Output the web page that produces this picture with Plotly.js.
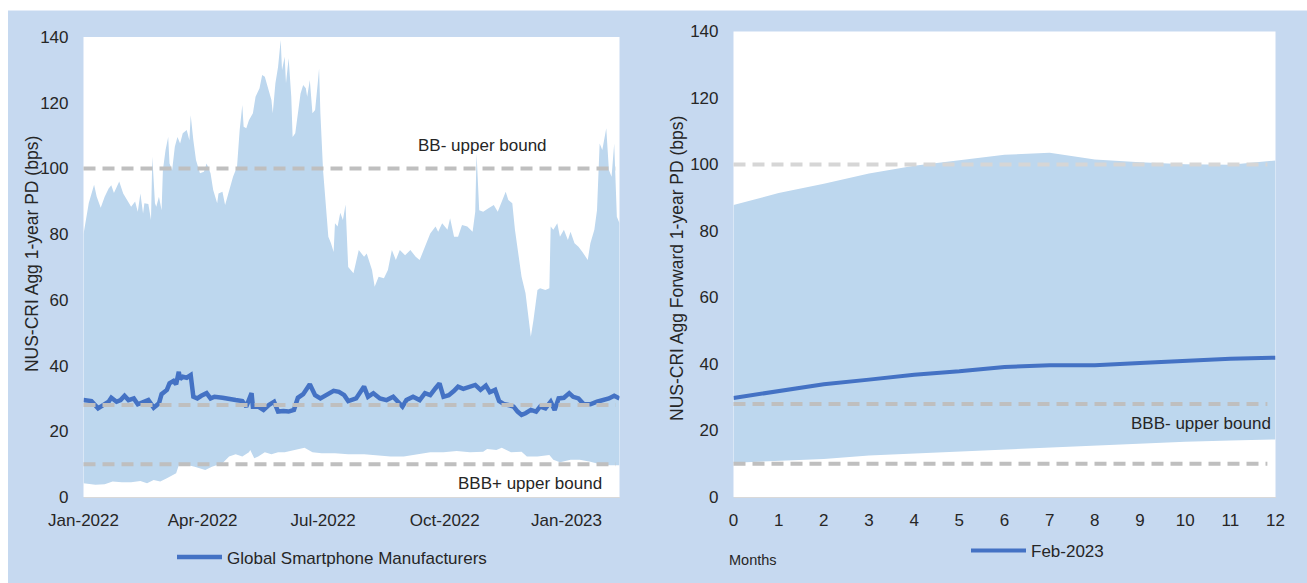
<!DOCTYPE html>
<html>
<head>
<meta charset="utf-8">
<script src="https://cdn.plot.ly/plotly-3.0.1.min.js"></script>
<style>
  html, body { margin: 0; padding: 0; background: #ffffff; }
  #chart { width: 1307px; height: 583px; }
</style>
</head>
<body>
<div id="chart"></div>
<script>
// ---------------- Left panel data: NUS-CRI Agg 1-year PD (bps) ----------------
const upperDates = ['2022-01-01','2022-01-03','2022-01-05','2022-01-09','2022-01-11','2022-01-14','2022-01-17','2022-01-20','2022-01-22','2022-01-24','2022-01-26','2022-01-28','2022-01-31',
  '2022-02-04','2022-02-06','2022-02-09','2022-02-11','2022-02-13','2022-02-15','2022-02-16','2022-02-19','2022-02-21','2022-02-22','2022-02-24','2022-02-25','2022-02-27',
  '2022-03-01','2022-03-02','2022-03-04','2022-03-06','2022-03-07','2022-03-09','2022-03-11','2022-03-13','2022-03-15','2022-03-17','2022-03-20','2022-03-22','2022-03-23','2022-03-25','2022-03-27','2022-03-30',
  '2022-04-02','2022-04-04','2022-04-07','2022-04-09','2022-04-12','2022-04-13','2022-04-16','2022-04-18','2022-04-21','2022-04-24','2022-04-27','2022-04-29',
  '2022-05-01','2022-05-02','2022-05-04','2022-05-06','2022-05-09','2022-05-11','2022-05-14','2022-05-16','2022-05-18','2022-05-21','2022-05-23','2022-05-24','2022-05-26','2022-05-28','2022-05-30','2022-05-31',
  '2022-06-02','2022-06-03','2022-06-05','2022-06-07','2022-06-08','2022-06-10','2022-06-12','2022-06-14','2022-06-16','2022-06-18','2022-06-19','2022-06-21','2022-06-23','2022-06-25','2022-06-27','2022-06-28','2022-06-29',
  '2022-07-01','2022-07-03','2022-07-05','2022-07-07','2022-07-09','2022-07-10','2022-07-12','2022-07-14','2022-07-16','2022-07-18','2022-07-20','2022-07-24','2022-07-28',
  '2022-08-01','2022-08-03','2022-08-07','2022-08-09','2022-08-12','2022-08-16','2022-08-19','2022-08-22','2022-08-25','2022-08-28',
  '2022-09-01','2022-09-05','2022-09-09','2022-09-12','2022-09-16','2022-09-20','2022-09-24','2022-09-26','2022-09-29',
  '2022-10-03','2022-10-05','2022-10-08','2022-10-11','2022-10-14','2022-10-18','2022-10-22','2022-10-24','2022-10-25','2022-10-27','2022-10-30',
  '2022-11-03','2022-11-07','2022-11-10','2022-11-12','2022-11-16','2022-11-18','2022-11-21','2022-11-23','2022-11-26','2022-11-28',
  '2022-12-01','2022-12-03','2022-12-05','2022-12-07','2022-12-10','2022-12-12','2022-12-16','2022-12-19','2022-12-20','2022-12-22','2022-12-25','2022-12-27','2022-12-30',
  '2023-01-02','2023-01-04','2023-01-07','2023-01-10','2023-01-13','2023-01-17','2023-01-19','2023-01-22','2023-01-24','2023-01-26','2023-01-28','2023-01-31',
  '2023-02-02','2023-02-04','2023-02-06','2023-02-08','2023-02-10'];
const upperValues = [80,85,89.5,95,91.4,88,91.4,93.9,94.9,92.5,94.4,96,92.4,
  89.4,88.3,89.9,86.8,92.4,86.3,89.4,89.2,84.3,103.6,89.4,88.3,91.4,
  87.3,99.5,105.6,109.6,101.5,99.5,106.6,109.6,107.6,110.7,111.7,108.6,116.2,108.6,102.6,98.5,
  99,101.5,98.5,93.4,89.4,92.4,92.9,88.9,93.4,97.5,100.5,111.7,
  119.3,112.7,112.2,114.7,116.8,121.8,124.4,128.4,127.9,123.3,120.8,116.8,125.9,130.9,139.1,129.9,
  134,125.9,133.5,121.8,109.6,110.7,116.8,122.8,125.4,124.4,121.8,126.9,116.8,117.8,125.9,130.4,116.8,
  99.5,89.4,79.2,77.2,74.6,83.3,82.3,86.5,84.3,89,70,68.1,75.2,
  73.1,74.1,69.1,64,67,66.6,69.1,75.2,72.1,75.2,
  73.6,75.2,73.1,72.1,76.2,80.2,82.3,80.7,83.3,
  81.3,84.8,79.2,79.2,82.8,82.3,80.7,86.8,104.6,87.3,86.8,
  87.9,88.9,86.8,88.9,92.9,90.4,89.4,81.3,73.1,67,
  62,54.9,48.8,53.9,63,63.5,63,63.5,82.3,81.3,83.3,79.2,81.3,
  78.2,80.7,77.2,76.2,74.6,72.1,77.2,81.3,87.3,107.6,105.6,112.2,
  99.5,97.5,107.6,85.3,83.3];

const lowerDates = ['2022-01-01','2022-01-10','2022-01-17','2022-01-23','2022-01-30',
  '2022-02-06','2022-02-13','2022-02-18','2022-02-23','2022-02-28',
  '2022-03-05','2022-03-10','2022-03-12','2022-03-14','2022-03-19','2022-03-26',
  '2022-04-03','2022-04-08','2022-04-16','2022-04-21','2022-04-26',
  '2022-05-01','2022-05-06','2022-05-07','2022-05-10','2022-05-13','2022-05-18','2022-05-23','2022-05-28',
  '2022-06-02','2022-06-10','2022-06-17','2022-06-23','2022-06-30',
  '2022-07-10','2022-07-20','2022-08-01','2022-08-11','2022-08-21','2022-08-31',
  '2022-09-10','2022-09-20','2022-09-30','2022-10-10','2022-10-20','2022-10-30',
  '2022-11-02','2022-11-09','2022-11-13','2022-11-20','2022-11-28',
  '2022-12-02','2022-12-10','2022-12-19','2022-12-22','2022-12-27',
  '2023-01-04','2023-01-11','2023-01-19','2023-01-27','2023-02-03','2023-02-10'];
const lowerValues = [4.2,3.7,3.9,4.7,4.5,
  4.5,4.9,4.2,5.2,4.7,
  5.7,6.7,7.2,9.7,9.9,9.2,
  8.2,9.2,10.3,12.3,13,
  12.3,13.6,14.3,11.8,12.3,13.6,13,13.6,
  13.6,14.3,15,13.6,13.3,
  13.3,13,13,12.6,12.3,12.3,
  13,13.6,13.6,14,13.6,13.8,
  14.6,14.3,15,13.6,13.8,
  12.3,12.3,12.8,11.3,10.6,
  11.3,11.3,10.7,9.9,9.7,9.7];

const medianDates = ['2022-01-01','2022-01-07','2022-01-12','2022-01-16','2022-01-20','2022-01-22','2022-01-26','2022-01-29',
  '2022-02-01','2022-02-04','2022-02-08','2022-02-11','2022-02-15','2022-02-19','2022-02-23','2022-02-27',
  '2022-03-01','2022-03-05','2022-03-07','2022-03-10','2022-03-12','2022-03-14','2022-03-15','2022-03-17','2022-03-20','2022-03-23','2022-03-25','2022-03-28','2022-03-31',
  '2022-04-04','2022-04-07','2022-04-10','2022-04-16','2022-04-21','2022-04-26',
  '2022-05-01','2022-05-04','2022-05-08','2022-05-09','2022-05-13','2022-05-17','2022-05-21','2022-05-25','2022-05-28',
  '2022-06-01','2022-06-05','2022-06-09','2022-06-12','2022-06-16','2022-06-21','2022-06-25','2022-06-29',
  '2022-07-04','2022-07-09','2022-07-13','2022-07-17','2022-07-20','2022-07-26',
  '2022-08-01','2022-08-04','2022-08-08','2022-08-13','2022-08-18','2022-08-23','2022-08-30',
  '2022-09-02','2022-09-07','2022-09-12','2022-09-16','2022-09-20','2022-09-24','2022-09-27','2022-09-30',
  '2022-10-04','2022-10-08','2022-10-11','2022-10-15','2022-10-19','2022-10-24','2022-10-28',
  '2022-11-01','2022-11-04','2022-11-08','2022-11-11','2022-11-15','2022-11-18','2022-11-22','2022-11-25','2022-11-28',
  '2022-12-01','2022-12-05','2022-12-09','2022-12-12','2022-12-16','2022-12-20','2022-12-23','2022-12-26','2022-12-30',
  '2023-01-03','2023-01-06','2023-01-10','2023-01-14','2023-01-19','2023-01-24','2023-01-29',
  '2023-02-02','2023-02-06','2023-02-10'];
const medianValues = [29.5,29.2,27,28,29,30.2,29,29.5,
  30.8,29.5,30,28.2,29,29.5,27.2,28.5,
  31.3,32.6,34.6,35.3,34.3,38.1,35.9,36.6,36.3,37.1,30.5,30,30.8,
  31.6,30,30.5,30.2,30,29.5,
  29.2,27.5,31.6,27.5,27.5,26.5,28,29,26,
  26.2,26,26.5,30.2,31.3,34.3,31,30,
  31,32.3,32,31,29.2,30,
  33.6,30.5,31.6,30,29.5,30.5,27.5,
  29.5,30.5,29.5,31.6,31,33.1,34.6,30.5,
  31,32.3,33.6,32.9,33.3,34.1,32.6,
  33.9,31.9,32.6,29.2,28.2,28,27.5,26,25,
  25.5,26.5,26,27.5,27,29,26.5,30,30.2,
  31.6,30.5,30,28.2,28.2,29,29.5,
  30,30.8,30];

const leftTickDates = ['2022-01-01','2022-04-01','2022-07-01','2022-10-01','2023-01-01'];

// ---------------- Right panel data: Forward 1-year PD (bps) ----------------
const months = [0,1,2,3,4,5,6,7,8,9,10,11,12];
const fwdUpper = [87.8,91.4,94.2,97.3,99.6,101.2,102.9,103.5,101.5,100.7,100.1,99.9,101.2];
const fwdLower = [10.3,10.8,11.4,12.5,13.1,13.6,14.2,15,15.6,16.1,16.6,17,17.3];
const fwdMedian = [29.8,31.8,33.9,35.3,36.8,37.8,39.1,39.6,39.6,40.3,41,41.6,41.9];

// Rating-bound reference levels (bps)
const boundLevels = [100, 28, 10];

// ---------------- Layout helpers ----------------
const W = 1307, H = 583;
const px = x => x / W;
const py = y => 1 - y / H;

const BAND = '#bdd7ee';
const LINE = '#4472c4';
const TXT = '#262626';
const FONT = 'Liberation Sans, Arial, sans-serif';

const traces = [
  { x: lowerDates, y: lowerValues, xaxis: 'x', yaxis: 'y', mode: 'lines', line: { width: 0, color: BAND }, showlegend: false, hoverinfo: 'skip' },
  { x: upperDates, y: upperValues, xaxis: 'x', yaxis: 'y', mode: 'lines', line: { width: 0, color: BAND }, fill: 'tonexty', fillcolor: BAND, showlegend: false, hoverinfo: 'skip' },
  { x: medianDates, y: medianValues, xaxis: 'x', yaxis: 'y', mode: 'lines', name: 'Global Smartphone Manufacturers', line: { width: 4.5, color: LINE }, legend: 'legend' },
  { x: months, y: fwdLower, xaxis: 'x2', yaxis: 'y2', mode: 'lines', line: { width: 0, color: BAND }, showlegend: false, hoverinfo: 'skip' },
  { x: months, y: fwdUpper, xaxis: 'x2', yaxis: 'y2', mode: 'lines', line: { width: 0, color: BAND }, fill: 'tonexty', fillcolor: BAND, showlegend: false, hoverinfo: 'skip' },
  { x: months, y: fwdMedian, xaxis: 'x2', yaxis: 'y2', mode: 'lines', name: 'Feb-2023', line: { width: 4, color: LINE }, legend: 'legend2' }
];

const shapes = [
  // white outer margins (left strip, top strip)
  { type: 'rect', xref: 'paper', yref: 'paper', x0: 0, x1: px(8), y0: 0, y1: 1, fillcolor: '#ffffff', line: { width: 0 }, layer: 'above' },
  { type: 'rect', xref: 'paper', yref: 'paper', x0: 0, x1: 1, y0: py(10.5), y1: 1, fillcolor: '#ffffff', line: { width: 0 }, layer: 'above' }
];
boundLevels.forEach(v => {
  shapes.push({ type: 'line', xref: 'x domain', yref: 'y', x0: 0, x1: 0.993, y0: v, y1: v,
    line: { color: '#bfbfbf', width: 4, dash: '12px,7px' }, layer: 'above' });
  shapes.push({ type: 'line', xref: 'x2 domain', yref: 'y2', x0: 0, x1: 0.985, y0: v, y1: v,
    line: { color: v === 100 ? '#d6d6d6' : '#bfbfbf', width: 4, dash: '12px,7px' }, layer: 'above' });
});

const axisCommon = {
  showgrid: false, zeroline: false, ticks: '',
  tickfont: { family: FONT, size: 17, color: TXT }
};

const layout = {
  width: W, height: H,
  margin: { l: 0, r: 0, t: 0, b: 0 },
  paper_bgcolor: '#c6d9f0',
  plot_bgcolor: '#ffffff',
  font: { family: FONT, color: TXT },
  showlegend: true,
  xaxis: Object.assign({}, axisCommon, {
    domain: [px(83.5), px(619.5)], anchor: 'y', type: 'date',
    range: ['2022-01-01', '2023-02-10'],
    tickvals: leftTickDates, tickformat: '%b-%Y',
    showline: true, linecolor: '#d9d9d9', linewidth: 1,
    ticklabelstandoff: 8
  }),
  yaxis: Object.assign({}, axisCommon, {
    domain: [py(497), py(37)], anchor: 'x', range: [0, 140], dtick: 20,
    showline: false, ticklabelstandoff: 14
  }),
  xaxis2: Object.assign({}, axisCommon, {
    domain: [px(733.5), px(1275.5)], anchor: 'y2', range: [0, 12], dtick: 1,
    showline: true, linecolor: '#d9d9d9', linewidth: 1,
    ticklabelstandoff: 8
  }),
  yaxis2: Object.assign({}, axisCommon, {
    domain: [py(497), py(31.5)], anchor: 'x2', range: [0, 140], dtick: 20,
    showline: false, ticklabelstandoff: 14
  }),
  legend: {
    x: px(172), y: py(557.5), xanchor: 'left', yanchor: 'middle', orientation: 'h',
    bgcolor: 'rgba(0,0,0,0)', borderwidth: 0, itemwidth: 45,
    font: { family: FONT, size: 17, color: TXT }
  },
  legend2: {
    x: px(966), y: py(551), xanchor: 'left', yanchor: 'middle', orientation: 'h',
    bgcolor: 'rgba(0,0,0,0)', borderwidth: 0, itemwidth: 55,
    font: { family: FONT, size: 17, color: TXT }
  },
  shapes: shapes,
  annotations: [
    { xref: 'paper', yref: 'paper', x: px(31.5), y: py(254.6), text: 'NUS-CRI Agg 1-year PD (bps)', textangle: -90,
      showarrow: false, font: { family: FONT, size: 17.5, color: TXT }, xanchor: 'center', yanchor: 'middle' },
    { xref: 'paper', yref: 'paper', x: px(676.5), y: py(268.5), text: 'NUS-CRI Agg Forward 1-year PD (bps)', textangle: -90,
      showarrow: false, font: { family: FONT, size: 17.5, color: TXT }, xanchor: 'center', yanchor: 'middle' },
    { xref: 'paper', yref: 'paper', x: px(482.5), y: py(145), text: 'BB- upper bound',
      showarrow: false, font: { family: FONT, size: 17, color: TXT }, xanchor: 'center', yanchor: 'middle' },
    { xref: 'paper', yref: 'paper', x: px(529.5), y: py(483), text: 'BBB+ upper bound',
      showarrow: false, font: { family: FONT, size: 17, color: TXT }, xanchor: 'center', yanchor: 'middle' },
    { xref: 'paper', yref: 'paper', x: px(1200.5), y: py(423.5), text: 'BBB- upper bound',
      showarrow: false, font: { family: FONT, size: 17, color: TXT }, xanchor: 'center', yanchor: 'middle' },
    { xref: 'paper', yref: 'paper', x: px(752.5), y: py(560), text: 'Months',
      showarrow: false, font: { family: FONT, size: 14.5, color: TXT }, xanchor: 'center', yanchor: 'middle' }
  ]
};

Plotly.newPlot('chart', traces, layout, { staticPlot: true, displayModeBar: false });
</script>
</body>
</html>
